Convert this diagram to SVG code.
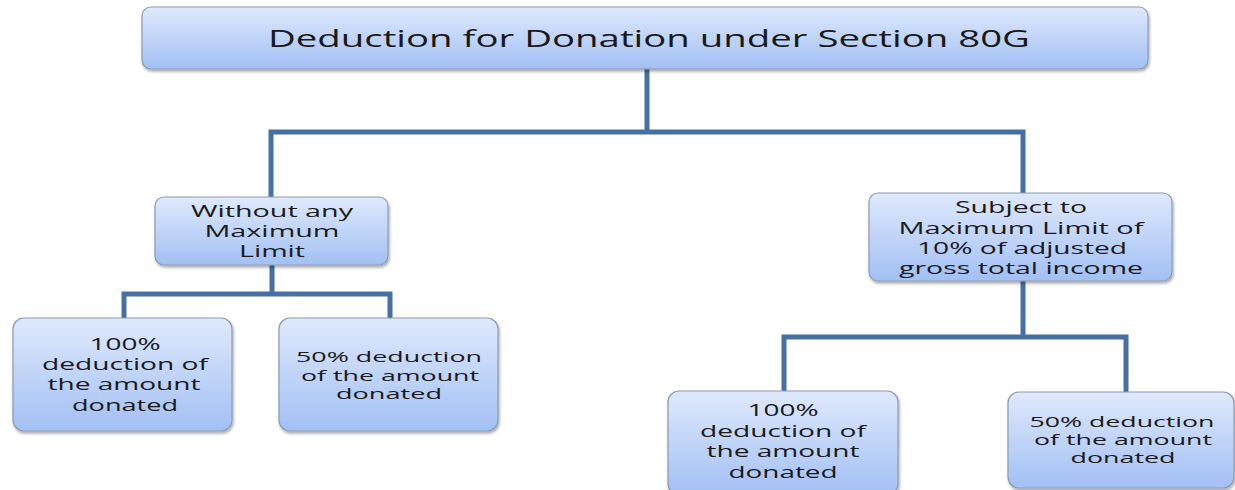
<svg xmlns="http://www.w3.org/2000/svg" width="1235" height="490" viewBox="0 0 1235 490">
<defs>
<linearGradient id="g" x1="0" y1="0" x2="0" y2="1">
<stop offset="0" stop-color="#dfe9fc"/>
<stop offset="1" stop-color="#a2c0f4"/>
</linearGradient>
<filter id="sh" x="-5%" y="-10%" width="110%" height="125%">
<feDropShadow dx="1" dy="2" stdDeviation="1.5" flood-color="#000" flood-opacity="0.35"/>
</filter>
<style>
.box{fill:url(#g);stroke:#8d9bb0;stroke-width:1.2;filter:url(#sh)}
.t{font-family:"Open Sans","DejaVu Sans",sans-serif;font-size:16px;fill:#1a1a1a;text-anchor:middle}
.s{font-size:14px}
.tt{font-size:23px}
.c{fill:none;stroke:#45709f;stroke-width:5;stroke-linejoin:miter}
</style>
</defs>
<rect width="1235" height="490" fill="#ffffff"/>
<g id="connectors">
<path class="c" d="M647 69 V132 M271 197 V132 H1023 V193"/>
<path class="c" d="M272 265 V294 M124 318 V294 H390 V318"/>
<path class="c" d="M1023 281 V337 M784 391 V337 H1126 V392"/>
</g>
<g id="root">
<rect class="box" x="142" y="7" width="1006" height="62" rx="9"/>
<text class="t tt" x="649" y="47" textLength="762" lengthAdjust="spacingAndGlyphs">Deduction for Donation under Section 80G</text>
</g>
<g id="without-limit">
<rect class="box" x="155" y="197" width="233" height="68" rx="9"/>
<text class="t" x="272" y="217" textLength="162" lengthAdjust="spacingAndGlyphs">Without any</text>
<text class="t" x="272" y="237" textLength="135" lengthAdjust="spacingAndGlyphs">Maximum</text>
<text class="t" x="272" y="257" textLength="66" lengthAdjust="spacingAndGlyphs">Limit</text>
</g>
<g id="without-100">
<rect class="box" x="13" y="318" width="219" height="113" rx="11"/>
<text class="t" x="125" y="350" textLength="71" lengthAdjust="spacingAndGlyphs">100%</text>
<text class="t" x="125" y="370" textLength="166" lengthAdjust="spacingAndGlyphs">deduction of</text>
<text class="t" x="124" y="390" textLength="153" lengthAdjust="spacingAndGlyphs">the amount</text>
<text class="t" x="125" y="411" textLength="106" lengthAdjust="spacingAndGlyphs">donated</text>
</g>
<g id="without-50">
<rect class="box" x="279" y="318" width="219" height="113" rx="11"/>
<text class="t s" x="389" y="362" textLength="186" lengthAdjust="spacingAndGlyphs">50% deduction</text>
<text class="t s" x="390" y="381" textLength="178" lengthAdjust="spacingAndGlyphs">of the amount</text>
<text class="t s" x="389" y="399" textLength="106" lengthAdjust="spacingAndGlyphs">donated</text>
</g>
<g id="subject-limit">
<rect class="box" x="869" y="193" width="303" height="88" rx="9"/>
<text class="t" x="1021" y="213" textLength="132" lengthAdjust="spacingAndGlyphs">Subject to</text>
<text class="t" x="1021" y="234" textLength="245" lengthAdjust="spacingAndGlyphs">Maximum Limit of</text>
<text class="t" x="1022" y="254" textLength="210" lengthAdjust="spacingAndGlyphs">10% of adjusted</text>
<text class="t" x="1021" y="274" textLength="244" lengthAdjust="spacingAndGlyphs">gross total income</text>
</g>
<g id="subject-100">
<rect class="box" x="668" y="391" width="230" height="104" rx="11"/>
<text class="t" x="783" y="416" textLength="71" lengthAdjust="spacingAndGlyphs">100%</text>
<text class="t" x="783" y="437" textLength="166" lengthAdjust="spacingAndGlyphs">deduction of</text>
<text class="t" x="783" y="457" textLength="153" lengthAdjust="spacingAndGlyphs">the amount</text>
<text class="t" x="783" y="478" textLength="109" lengthAdjust="spacingAndGlyphs">donated</text>
</g>
<g id="subject-50">
<rect class="box" x="1008" y="392" width="226" height="96" rx="11"/>
<text class="t s" x="1122" y="427" textLength="185" lengthAdjust="spacingAndGlyphs">50% deduction</text>
<text class="t s" x="1123" y="445" textLength="178" lengthAdjust="spacingAndGlyphs">of the amount</text>
<text class="t s" x="1123" y="463" textLength="105" lengthAdjust="spacingAndGlyphs">donated</text>
</g>
</svg>
